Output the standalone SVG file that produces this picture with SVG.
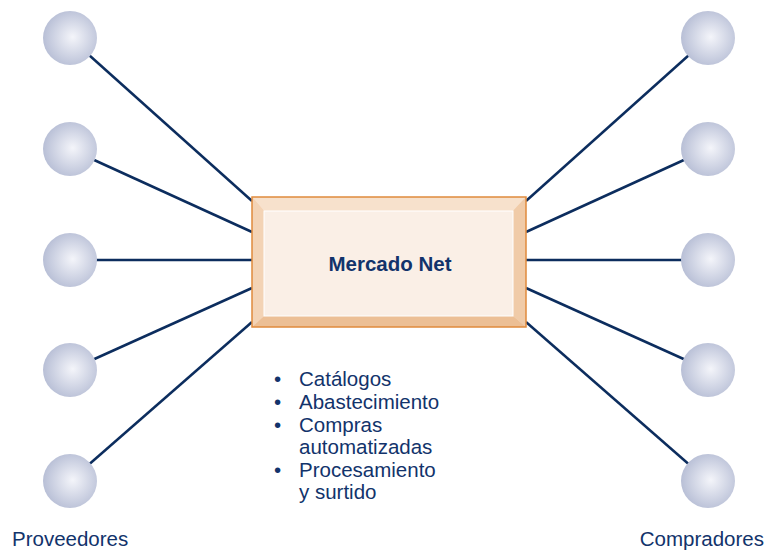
<svg xmlns="http://www.w3.org/2000/svg" width="766" height="550" viewBox="0 0 766 550">
<defs>
<radialGradient id="ball" cx="0.55" cy="0.5" r="0.55" fx="0.55" fy="0.48">
<stop offset="0" stop-color="#f4f5fa"/>
<stop offset="1" stop-color="#b8bfd6"/>
</radialGradient>
<style>
.c{fill:url(#ball)}
.ln{stroke:#0c2d5e;stroke-width:2.5;fill:none}
.t{font-family:"Liberation Sans",Arial,sans-serif;fill:#12336b}
.b{font-size:20.5px}
</style>
</defs>
<rect width="766" height="550" fill="#fff"/>
<g id="connectors">
<line class="ln" x1="70" y1="38" x2="252" y2="201"/>
<line class="ln" x1="70" y1="149" x2="252" y2="232"/>
<line class="ln" x1="70" y1="260" x2="252" y2="260"/>
<line class="ln" x1="70" y1="370" x2="252" y2="288"/>
<line class="ln" x1="70" y1="481" x2="252" y2="322"/>
<line class="ln" x1="708" y1="38" x2="526" y2="201"/>
<line class="ln" x1="708" y1="149" x2="526" y2="232"/>
<line class="ln" x1="708" y1="260" x2="526" y2="260"/>
<line class="ln" x1="708" y1="370" x2="526" y2="288"/>
<line class="ln" x1="708" y1="481" x2="526" y2="322"/>
</g>
<g id="proveedor1"><circle class="c" cx="70" cy="38" r="27"/></g>
<g id="proveedor2"><circle class="c" cx="70" cy="149" r="27"/></g>
<g id="proveedor3"><circle class="c" cx="70" cy="260" r="27"/></g>
<g id="proveedor4"><circle class="c" cx="70" cy="370" r="27"/></g>
<g id="proveedor5"><circle class="c" cx="70" cy="481" r="27"/></g>
<g id="comprador1"><circle class="c" cx="708" cy="38" r="27"/></g>
<g id="comprador2"><circle class="c" cx="708" cy="149" r="27"/></g>
<g id="comprador3"><circle class="c" cx="708" cy="260" r="27"/></g>
<g id="comprador4"><circle class="c" cx="708" cy="370" r="27"/></g>
<g id="comprador5"><circle class="c" cx="708" cy="481" r="27"/></g>
<g id="mercado">
<rect x="252" y="197" width="274" height="130" fill="#f3d3b5"/>
<polygon points="252,197 526,197 513,211 264,211" fill="#f7e1cc"/>
<polygon points="252,327 526,327 513,316 264,316" fill="#ecbf95"/>
<polygon points="252,197 264,211 264,316 252,327" fill="#f3d3b5"/>
<polygon points="526,197 513,211 513,316 526,327" fill="#f0cba8"/>
<rect x="264" y="211" width="249" height="105" fill="#faefe6" stroke="#fff" stroke-width="1"/>
<rect x="252" y="197" width="274" height="130" fill="none" stroke="#e08a3c" stroke-width="1.5"/>
<text class="t" x="390" y="271" text-anchor="middle" font-size="20.5" font-weight="bold">Mercado Net</text>
</g>
<g id="servicios" class="t b">
<text x="274" y="386">•</text><text x="299" y="386">Catálogos</text>
<text x="274" y="409">•</text><text x="299" y="409">Abastecimiento</text>
<text x="274" y="432">•</text><text x="299" y="432">Compras</text>
<text x="299" y="454">automatizadas</text>
<text x="274" y="477">•</text><text x="299" y="477">Procesamiento</text>
<text x="299" y="499">y surtido</text>
</g>
<g id="labels" class="t b">
<text x="12" y="546">Proveedores</text>
<text x="764" y="546" text-anchor="end">Compradores</text>
</g>
</svg>
